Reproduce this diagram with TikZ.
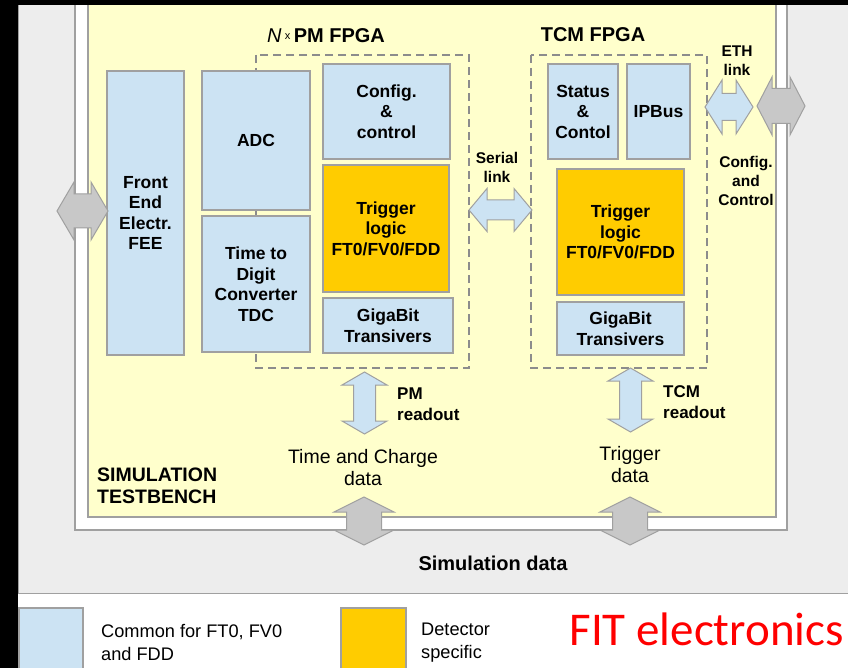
\documentclass[tikz,border=0pt]{standalone}
\usepackage{fontspec}
\setmainfont{Liberation Sans}
\newfontfamily\fitfont{Carlito}
\definecolor{common}{HTML}{CCE3F3}
\definecolor{detector}{HTML}{FFCC00}
\definecolor{bench}{HTML}{FFFFCC}
\definecolor{panel}{HTML}{EDEDED}
\definecolor{edge}{HTML}{A0A0A0}
\definecolor{dashgray}{HTML}{8C8C8C}
\definecolor{arrowgray}{HTML}{C8C8C8}
\newcommand\boxfont{\fontsize{17.5}{20.5}\selectfont\bfseries}
\newcommand\notefont{\fontsize{15.5}{19}\selectfont\bfseries}
\newcommand\readfont{\fontsize{17}{21}\selectfont\bfseries}
\newcommand\datafont{\fontsize{19.5}{22}\selectfont}
\newcommand\titlefont{\fontsize{20}{24}\selectfont\bfseries}
\newcommand\keyfont{\fontsize{18.2}{23}\selectfont}
% #1 style, (#2,#3) centre, #4 half length, #5 head length, #6 half shaft, #7 half head
\newcommand\harrow[7]{\filldraw[#1] (#2-#4,#3) -- (#2-#4+#5,#3-#7) -- (#2-#4+#5,#3-#6) -- (#2+#4-#5,#3-#6) -- (#2+#4-#5,#3-#7) -- (#2+#4,#3) -- (#2+#4-#5,#3+#7) -- (#2+#4-#5,#3+#6) -- (#2-#4+#5,#3+#6) -- (#2-#4+#5,#3+#7) -- cycle;}
\newcommand\varrow[7]{\filldraw[#1] (#2,#3-#4) -- (#2+#7,#3-#4+#5) -- (#2+#6,#3-#4+#5) -- (#2+#6,#3+#4-#5) -- (#2+#7,#3+#4-#5) -- (#2,#3+#4) -- (#2-#7,#3+#4-#5) -- (#2-#6,#3+#4-#5) -- (#2-#6,#3-#4+#5) -- (#2-#7,#3-#4+#5) -- cycle;}

\begin{document}
\begin{tikzpicture}[x=1pt, y=-1pt, every node/.style={inner sep=0pt, align=center},
	blk/.style={draw=edge, line width=1.2pt, fill=common, font=\boxfont},
	det/.style={blk, fill=detector},
	fpga/.style={draw=dashgray, line width=2.6pt, dash pattern=on 8pt off 5pt},
	dbl/.style={draw=edge, line width=1pt, fill=common},
	gdbl/.style={dbl, fill=arrowgray}]
	\useasboundingbox (0,0) rectangle (848,668);
	\fill[black] (0,0) rectangle (848,668);
	\fill[white] (18,6) rectangle (848,668);
	\begin{scope}
	\clip (18,6) rectangle (848,668);
	\filldraw[fill=panel, draw=edge, line width=1pt] (18,-10) rectangle (860,593);
	\filldraw[fill=white, draw=edge, line width=1.2pt] (75,-10) rectangle (787,530);
	\filldraw[fill=bench, draw=edge, line width=1.2pt] (88,-10) rectangle (776,517);
	\end{scope}
	\draw[fpga] (256,55) rectangle (469,368);
	\draw[fpga] (531,55) rectangle (707,368);
	\node[blk, minimum width=77, minimum height=284] (fee) at (145.5,213) {Front\\End\\Electr.\\FEE};
	\node[blk, minimum width=108, minimum height=139] (adc) at (256,140.5) {ADC};
	\node[blk, minimum width=108, minimum height=136] (tdc) at (256,284) {Time to\\Digit\\Converter\\TDC};
	\node[blk, minimum width=127, minimum height=95] (cfg) at (386.5,111.5) {Config.\\\&\\control};
	\node[det, minimum width=126, minimum height=127] (pmtrig) at (386,228.5) {Trigger\\logic\\FT0/FV0/FDD};
	\node[blk, minimum width=130, minimum height=55] (pmgiga) at (388,325.5) {GigaBit\\Transivers};
	\node[blk, minimum width=70, minimum height=95] (status) at (583,111.5) {Status\\\&\\Contol};
	\node[blk, minimum width=63, minimum height=95] (ipbus) at (658.5,111.5) {IPBus};
	\node[det, minimum width=127, minimum height=126] (tcmtrig) at (620.5,232) {Trigger\\logic\\FT0/FV0/FDD};
	\node[blk, minimum width=127, minimum height=53] (tcmgiga) at (620.5,328.5) {GigaBit\\Transivers};
	\harrow{gdbl}{82.5}{211}{25.5}{17}{17}{29}
	\harrow{dbl}{500.5}{210}{31.5}{18}{10}{21.5}
	\harrow{dbl}{729}{107}{24}{17}{13.5}{27}
	\harrow{gdbl}{781}{106}{24}{15}{17.5}{29}
	\varrow{dbl}{364.5}{403}{31}{13}{11}{22.5}
	\varrow{dbl}{630.5}{400}{32}{13}{11}{22.5}
	\varrow{gdbl}{364}{521}{24}{15}{17.5}{30}
	\varrow{gdbl}{630}{521}{24}{15}{17.5}{30}
	\node[font=\fontsize{20}{24}\selectfont] (pmtitle) at (326,36) {\textit{N}\,\raisebox{3pt}{\fontsize{11}{12}\selectfont x}\,\textbf{PM FPGA}};
	\node[font=\titlefont] (tcmtitle) at (593,35) {TCM FPGA};
	\node[font=\notefont] (seriallbl) at (497,167) {Serial\\link};
	\node[font=\notefont] (ethlbl) at (737,61) {ETH\\link};
	\node[font=\notefont] (cfglbl) at (746,181) {Config.\\and\\Control};
	\node[font=\readfont, align=left, anchor=west] (pmreadlbl) at (397,404) {PM\\readout};
	\node[font=\readfont, align=left, anchor=west] (tcmreadlbl) at (663,402) {TCM\\readout};
	\node[font=\datafont] (pmdata) at (363,468) {Time and Charge\\data};
	\node[font=\datafont] (tcmdata) at (630,465) {Trigger\\data};
	\node[font=\fontsize{19.5}{22}\selectfont\bfseries, align=left, anchor=west] (bench) at (97,486) {SIMULATION\\TESTBENCH};
	\node[font=\titlefont] (simdata) at (493,563) {Simulation data};
	\filldraw[fill=common, draw=edge, line width=1.2pt] (19,608) rectangle (83,680);
	\filldraw[fill=detector, draw=edge, line width=1.2pt] (341,608) rectangle (406,680);
	\node[font=\keyfont, align=left, anchor=west] (commonkey) at (101,642) {Common for FT0, FV0\\and FDD};
	\node[font=\keyfont, align=left, anchor=west] (detkey) at (421,643) {Detector\\specific};
	\node[font=\fitfont\fontsize{47}{50}\selectfont, text=red, anchor=base east] (fit) at (844,645) {FIT electronics};
\end{tikzpicture}
\end{document}
